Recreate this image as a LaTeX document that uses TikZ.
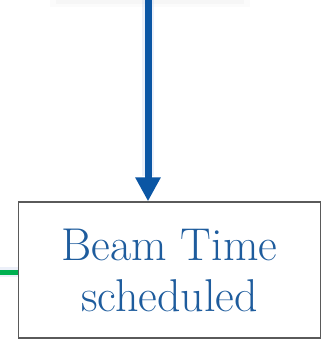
\documentclass[tikz,border=0pt]{standalone}
\usetikzlibrary{arrows.meta}
\definecolor{flowblue}{HTML}{0B56A4}
\definecolor{textblue}{HTML}{1E5C9D}
\definecolor{glowblue}{HTML}{C9D6F0}
\definecolor{flowgreen}{HTML}{00B050}
\definecolor{boxgray}{HTML}{5A5A5A}
\tikzset{
  statebox/.style={draw=boxgray, line width=1.4pt, fill=white, align=center,
    text=textblue, font=\fontsize{46}{51}\selectfont,
    minimum width=302pt, minimum height=136pt, inner sep=0pt},
  flowarrow/.style={draw=flowblue, line width=7pt,
    -{Triangle[width=24pt,length=24pt]}},
  glow/.style={draw=glowblue, opacity=0.35},
  greenlink/.style={draw=flowgreen, line width=5pt}
}
\begin{document}
\begin{tikzpicture}[x=1pt,y=-1pt]
\useasboundingbox (0,0) rectangle (321,339);
\fill[white] (0,0) rectangle (321,339);
% soft shadow of the box above
\fill[black, opacity=0.015] (50,-10) rectangle (250,7);
\fill[black, opacity=0.02] (56,-10) rectangle (244,4);
% end points of the incoming connectors
\coordinate (src) at (148,0);
\coordinate (lft) at (0,272);
% halo under the connectors
\draw[glow, line width=12pt] (148,0) -- (148,176);
\draw[glow, line width=10pt] (0,272) -- (20,272);
% the state box
\node[statebox] (box) at (169.5,270) {Beam Time\\scheduled};
% connectors
\draw[flowarrow] (src) -- (src |- box.north);
\draw[greenlink] (lft) -- (lft -| box.west);
\end{tikzpicture}
\end{document}
